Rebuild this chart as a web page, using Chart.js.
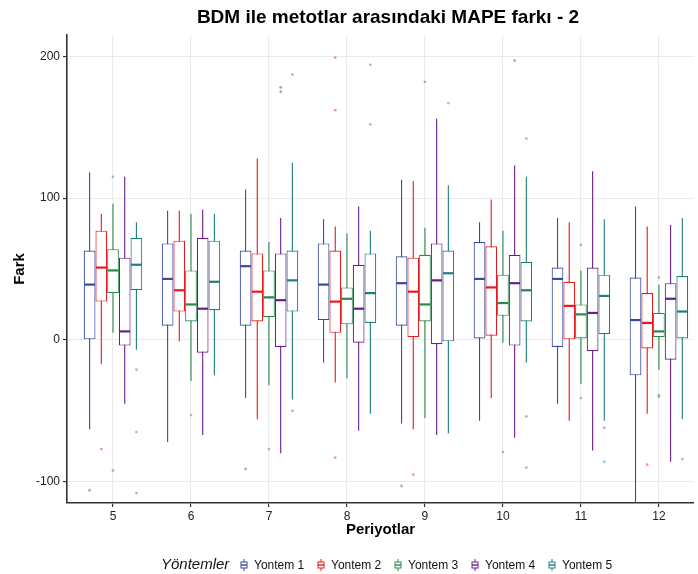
<!DOCTYPE html>
<html>
<head>
<meta charset="utf-8">
<script src="https://cdn.jsdelivr.net/npm/chart.js@4.4.0/dist/chart.umd.min.js"></script>
<style>
  html, body { margin: 0; padding: 0; background: #fff; }
  #wrap { position: relative; width: 698px; height: 574px; font-family: "Liberation Sans", Arial, sans-serif; }
  #baslik { position: absolute; left: 0; top: 6px; width: 776px; text-align: center; font-size: 19px; font-weight: bold; color: #000; }
  #legend { position: absolute; left: 0; top: 556px; width: 698px; height: 18px; }
  .lg { position: absolute; top: 0; font-size: 12px; line-height: 18px; color: #111; white-space: nowrap; }
  .lg-title { font-size: 15px; font-style: italic; top: -1px; }
  .lg svg { position: absolute; top: 3px; }
</style>
</head>
<body>
<div id="wrap">
  <canvas id="c" width="698" height="574"></canvas>
  <div id="baslik">BDM ile metotlar arasındaki MAPE farkı - 2</div>
  <div id="legend"></div>
</div>
<script>
const periyotlar = [5, 6, 7, 8, 9, 10, 11, 12];
const yontemler = ['Yontem 1', 'Yontem 2', 'Yontem 3', 'Yontem 4', 'Yontem 5'];
const renkler = ['#3b4a9c', '#e8191f', '#27894a', '#6a1d8c', '#1d7f7c'];

// [alt bıyık, Q1, medyan, Q3, üst bıyık] per period
const yontem1 = [[-63, 0, 39, 63, 118], [-72, 10, 43, 68, 91], [-41, 10, 52, 63, 106], [-16, 14, 39, 68, 85],
                 [-59, 10, 40, 59, 113], [-57, 1, 43, 69, 83], [-45, -5, 43, 51, 86], [-135, -25, 14, 44, 94]];
const yontem2 = [[-17, 27, 51, 77, 89], [-1, 20, 35, 70, 91], [-56, 13, 34, 61, 128], [-30, 5, 27, 63, 80],
                 [-63, 2, 34, 58, 112], [-41, 3, 37, 66, 99], [-57, 0, 24, 41, 83], [-52, -6, 12, 33, 80]];
const yontem3 = [[5, 33, 49, 64, 96], [-29, 13, 25, 49, 89], [-32, 16, 30, 49, 69], [-27, 11, 29, 37, 75],
                 [-55, 13, 25, 60, 79], [-2, 17, 26, 46, 77], [-31, 1, 18, 25, 49], [-21, 2, 6, 19, 39]];
const yontem4 = [[-45, -4, 6, 58, 115], [-67, -9, 22, 72, 92], [-80, -5, 28, 61, 86], [-64, -2, 22, 53, 94],
                 [-67, -3, 42, 68, 156], [-69, -4, 40, 60, 123], [-78, -8, 19, 51, 119], [-86, -14, 29, 40, 81]];
const yontem5 = [[-7, 35, 53, 72, 83], [-25, 21, 41, 70, 89], [-42, 20, 42, 63, 125], [-52, 12, 33, 61, 77],
                 [-66, -1, 47, 63, 109], [-16, 13, 35, 55, 115], [-57, 4, 31, 46, 85], [-56, 1, 20, 45, 86]];

// aykırı değerler: [periyot, değer]
const aykiri1 = [[5, -106], [7, -91], [9, -103]];
const aykiri2 = [[5, -77], [8, 199], [8, 162], [8, -83], [9, -95], [12, -88]];
const aykiri3 = [[5, 115], [5, -92], [6, -53], [7, -77], [9, 182], [10, -79], [11, 67], [11, -41],
                 [12, 44], [12, -39], [12, -40]];
const aykiri4 = [[7, 178], [7, 175], [10, 197]];
const aykiri5 = [[5, -21], [5, -65], [5, -108], [7, 187], [7, -50], [8, 194], [8, 152], [9, 167],
                 [10, 142], [10, -54], [10, -90], [11, -62], [11, -86], [12, -84]];

const yTicks = [-100, 0, 100, 200];
const kutular = [yontem1, yontem2, yontem3, yontem4, yontem5];
const aykirilar = [aykiri1, aykiri2, aykiri3, aykiri4, aykiri5];

const FONT = '"Liberation Sans", Arial, sans-serif';
const dodge = 0.15;

function alpha(hex, a) {
    const n = parseInt(hex.slice(1), 16);
    return `rgba(${n >> 16}, ${(n >> 8) & 255}, ${n & 255}, ${a})`;
}

const datasets = [];
kutular.forEach((seri, k) => {
    datasets.push({
        type: 'bar',
        label: yontemler[k],
        data: seri.map((b, i) => ({ x: periyotlar[i], y: [b[1], b[3]] })),
        backgroundColor: '#ffffff',
        borderColor: renkler[k],
        borderWidth: 1.15,
        borderSkipped: false,
        categoryPercentage: 0.75,
        barPercentage: 1,
        order: 1
    });
});
aykirilar.forEach((seri, k) => {
    datasets.push({
        type: 'scatter',
        label: yontemler[k] + ' aykırı',
        data: seri.map(p => ({ x: p[0] + (k - 2) * dodge, y: p[1] })),
        pointRadius: 1.4,
        pointBorderWidth: 0,
        pointBackgroundColor: alpha(renkler[k], 0.45),
        order: 0
    });
});

// whiskers behind the boxes, medians on top
const boxplotPlugin = {
    id: 'boxplot',
    beforeDatasetsDraw(chart) {
        const { ctx, chartArea, scales: { y } } = chart;
        ctx.save();
        ctx.beginPath();
        ctx.rect(chartArea.left, chartArea.top, chartArea.right - chartArea.left, chartArea.bottom - chartArea.top);
        ctx.clip();
        kutular.forEach((seri, k) => {
            const meta = chart.getDatasetMeta(k);
            ctx.strokeStyle = renkler[k];
            ctx.lineWidth = 1.1;
            seri.forEach((b, i) => {
                const el = meta.data[i];
                ctx.beginPath();
                ctx.moveTo(el.x, y.getPixelForValue(b[0]));
                ctx.lineTo(el.x, y.getPixelForValue(b[4]));
                ctx.stroke();
            });
        });
        ctx.restore();
    },
    afterDatasetsDraw(chart) {
        const { ctx, scales: { y } } = chart;
        ctx.save();
        kutular.forEach((seri, k) => {
            const meta = chart.getDatasetMeta(k);
            ctx.strokeStyle = renkler[k];
            ctx.lineWidth = 2.2;
            seri.forEach((b, i) => {
                const el = meta.data[i];
                const py = y.getPixelForValue(b[2]);
                ctx.beginPath();
                ctx.moveTo(el.x - el.width / 2 + 0.5, py);
                ctx.lineTo(el.x + el.width / 2 - 0.5, py);
                ctx.stroke();
            });
        });
        ctx.restore();
    }
};

new Chart(document.getElementById('c'), {
    type: 'bar',
    data: { datasets },
    plugins: [boxplotPlugin],
    options: {
        responsive: false,
        animation: false,
        events: [],
        layout: { padding: { top: 35, left: 0, right: 0, bottom: 0 } },
        plugins: {
            legend: { display: false },
            title: { display: false },
            tooltip: { enabled: false }
        },
        scales: {
            x: {
                type: 'linear',
                min: 4.41,
                max: 12.45,
                offset: false,
                afterBuildTicks: s => { s.ticks = periyotlar.map(v => ({ value: v })); },
                afterFit: s => { s.height = 71; },
                grid: { offset: false, color: '#ebebeb', lineWidth: 1.1, tickLength: 4, tickColor: '#333', tickWidth: 1.2 },
                border: { color: '#333', width: 1.6 },
                ticks: { color: '#222', font: { family: FONT, size: 12 }, padding: 2, maxRotation: 0 },
                title: { display: true, text: 'Periyotlar', color: '#000', font: { family: FONT, size: 15, weight: 'bold' }, padding: { top: 0, bottom: 35 } }
            },
            y: {
                type: 'linear',
                min: -115,
                max: 215,
                afterBuildTicks: s => { s.ticks = yTicks.map(v => ({ value: v })); },
                afterFit: s => { s.width = 67; },
                grid: { color: '#ebebeb', lineWidth: 1.1, tickLength: 4, tickColor: '#333', tickWidth: 1.2 },
                border: { color: '#333', width: 1.6 },
                ticks: { color: '#222', font: { family: FONT, size: 12 }, padding: 3 },
                title: { display: true, text: 'Fark', color: '#000', font: { family: FONT, size: 15, weight: 'bold' }, padding: { top: 11, bottom: 0 } }
            }
        }
    }
});

// legend
const legend = document.getElementById('legend');
const t = document.createElement('div');
t.className = 'lg lg-title';
t.style.left = '161px';
t.textContent = 'Yöntemler';
legend.appendChild(t);
yontemler.forEach((ad, k) => {
    const left = 240 + k * 77;
    const item = document.createElement('div');
    item.className = 'lg';
    item.style.left = left + 'px';
    item.innerHTML = `<svg width="8" height="12" viewBox="0 0 8 12" style="left:0">
        <line x1="4" y1="0" x2="4" y2="12" stroke="${renkler[k]}" stroke-width="1"/>
        <rect x="1" y="3" width="6" height="6" fill="#fff" stroke="${renkler[k]}" stroke-width="1"/>
        <line x1="1" y1="6" x2="7" y2="6" stroke="${renkler[k]}" stroke-width="1.4"/>
      </svg><span style="position:absolute;left:14px;top:0">${ad}</span>`;
    legend.appendChild(item);
});
</script>
</body>
</html>
